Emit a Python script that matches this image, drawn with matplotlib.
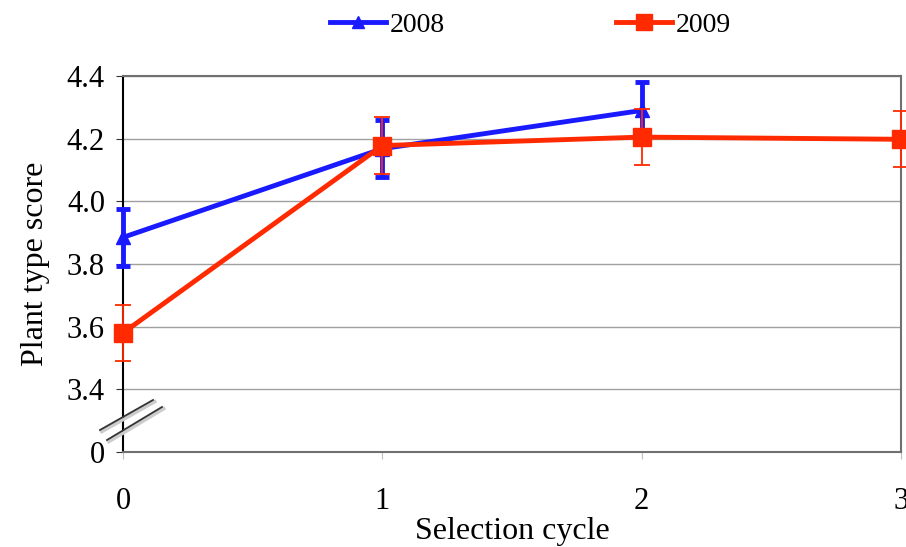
import matplotlib
matplotlib.use("Agg")
import matplotlib.pyplot as plt
from matplotlib.lines import Line2D

cycles = [0, 1, 2, 3]
y2008 = [3.885, 4.168, 4.290]
e2008 = [0.09, 0.09, 0.09]
y2009 = [3.580, 4.178, 4.205, 4.198]
e2009 = [0.09, 0.09, 0.09, 0.09]
ytick_vals = [3.2, 3.4, 3.6, 3.8, 4.0, 4.2, 4.4]
ytick_labels = ["0", "3.4", "3.6", "3.8", "4.0", "4.2", "4.4"]

plt.rcParams['font.family'] = ['Liberation Serif', 'DejaVu Serif']

fig = plt.figure(figsize=(9.06, 5.47), dpi=100)
ax = fig.add_axes([123/906, 1-452/547, (901-123)/906, (452-76)/547])

blue = '#1a1aff'
red = '#ff2a00'

ax.errorbar(cycles[:3], y2008, yerr=e2008, color=blue, lw=3.5, marker='^', ms=10,
            elinewidth=3.5, capsize=5, capthick=3.5, zorder=4, label='2008', clip_on=False)
ax.errorbar(cycles, y2009, yerr=e2009, color=red, lw=3.5, marker='s', ms=13,
            elinewidth=1.3, capsize=6, capthick=1.3, zorder=5, label='2009', clip_on=False)

ax.set_xlim(0, 3)
ax.set_ylim(3.2, 4.4)
ax.set_yticks(ytick_vals)
ax.set_yticklabels(ytick_labels)
ax.set_xticks(cycles)
ax.yaxis.grid(True, color='#a0a0a0', lw=1)
ax.set_axisbelow(True)

for s in ['top', 'right', 'bottom']:
    ax.spines[s].set_color('#707070')
    ax.spines[s].set_linewidth(1.5)
ax.spines['left'].set_color('black')
ax.spines['left'].set_linewidth(1.5)

ax.tick_params(axis='y', labelsize=22, length=5, color='#333333', pad=8)
ax.tick_params(axis='x', labelsize=22, length=5, color='#c0c0c0', pad=20)
ax.set_xlabel('Selection cycle', fontsize=23, labelpad=1)
ax.set_ylabel('Plant type score', fontsize=23, labelpad=12)

# axis break marks
for (x0, y0, x1, y1) in [(100, 430, 153, 400), (107, 440, 162, 407)]:
    fig.add_artist(Line2D([x0/906 + 0.002, x1/906 + 0.002], [1-y0/547 - 0.003, 1-y1/547 - 0.003],
                          color='#cccccc', lw=2.5))
    fig.add_artist(Line2D([x0/906, x1/906], [1-y0/547, 1-y1/547], color='#333333', lw=1.3))

h1 = Line2D([], [], color=blue, lw=3.5, marker='^', ms=9)
h2 = Line2D([], [], color=red, lw=3.5, marker='s', ms=11)
leg1 = fig.legend([h1], ['2008'], loc='center left', bbox_to_anchor=(330/906, 1-25/547),
                  frameon=False, fontsize=20, handlelength=2.0, handletextpad=0.15,
                  borderpad=0, borderaxespad=0)
leg2 = fig.legend([h2], ['2009'], loc='center left', bbox_to_anchor=(616/906, 1-25/547),
                  frameon=False, fontsize=20, handlelength=2.0, handletextpad=0.15,
                  borderpad=0, borderaxespad=0)

fig.savefig('out.png', dpi=100)
